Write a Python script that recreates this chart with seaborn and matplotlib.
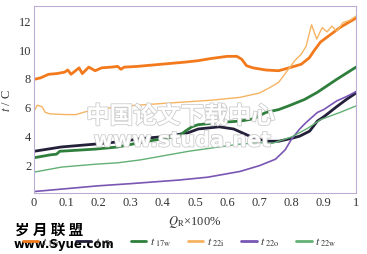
import matplotlib
matplotlib.use("Agg")
import matplotlib.pyplot as plt
import matplotlib.patheffects as pe
import seaborn as sns
import pandas as pd

# ---- data ----
x_17i = [0, 0.02, 0.045, 0.07, 0.095, 0.105, 0.115, 0.14, 0.15, 0.17, 0.19, 0.21, 0.24, 0.26, 0.27, 0.28,
         0.32, 0.37, 0.42, 0.47, 0.51, 0.55, 0.6, 0.63, 0.645, 0.66, 0.68, 0.72, 0.76, 0.8, 0.83, 0.855,
         0.87, 0.89, 0.92, 0.95, 0.98, 1.0]
y_17i = [7.9, 8.0, 8.25, 8.3, 8.4, 8.55, 8.25, 8.7, 8.3, 8.75, 8.5, 8.7, 8.75, 8.8, 8.6, 8.75,
         8.8, 8.9, 9.0, 9.1, 9.2, 9.35, 9.5, 9.5, 9.3, 8.85, 8.7, 8.55, 8.5, 8.75, 8.95, 9.4,
         9.9, 10.5, 11.0, 11.5, 11.9, 12.15]

x_22i = [0, 0.01, 0.025, 0.035, 0.05, 0.1, 0.13, 0.16, 0.2, 0.26, 0.35, 0.45, 0.55, 0.64, 0.7, 0.73,
         0.76, 0.79, 0.81, 0.83, 0.845, 0.862, 0.878, 0.895, 0.91, 0.925, 0.94, 0.96, 0.98, 1.0]
y_22i = [5.7, 6.1, 6.0, 5.6, 5.5, 5.45, 5.45, 5.65, 5.8, 6.0, 6.15, 6.3, 6.45, 6.65, 6.95, 7.3,
         7.7, 8.6, 9.2, 9.65, 10.2, 11.7, 10.7, 11.5, 11.2, 11.6, 11.25, 11.85, 12.0, 12.3]

x_17o = [0, 0.085, 0.19, 0.26, 0.34, 0.42, 0.48, 0.51, 0.575, 0.62, 0.67, 0.72, 0.76, 0.8, 0.825,
         0.856, 0.88, 0.9, 0.94, 0.97, 1.0]
y_17o = [2.9, 3.2, 3.4, 3.55, 3.8, 3.95, 4.2, 4.45, 4.6, 4.45, 3.95, 3.6, 3.6, 3.8, 3.95,
         4.3, 5.0, 5.3, 6.0, 6.5, 6.95]

x_17w = [0, 0.05, 0.07, 0.08, 0.19, 0.26, 0.34, 0.45, 0.47, 0.49, 0.51, 0.575, 0.64, 0.68, 0.72,
         0.76, 0.79, 0.84, 0.88, 0.94, 1.0]
y_17w = [2.45, 2.65, 2.7, 2.9, 3.05, 3.2, 3.55, 3.95, 4.3, 4.6, 4.75, 4.9, 5.0, 5.15, 5.6,
         5.8, 6.05, 6.5, 7.0, 7.9, 8.75]

x_22o = [0, 0.1, 0.2, 0.3, 0.36, 0.45, 0.54, 0.64, 0.7, 0.75, 0.78, 0.8, 0.825, 0.845, 0.88, 0.9,
         0.94, 0.97, 1.0]
y_22o = [0.1, 0.3, 0.5, 0.65, 0.75, 0.9, 1.1, 1.5, 1.9, 2.35, 3.0, 3.75, 4.45, 4.9, 5.6, 5.8,
         6.4, 6.7, 7.05]

x_22w = [0, 0.085, 0.19, 0.26, 0.33, 0.48, 0.575, 0.64, 0.7, 0.74, 0.8, 0.85, 0.89, 0.95, 1.0]
y_22w = [1.45, 1.8, 2.0, 2.1, 2.3, 2.9, 3.2, 3.4, 3.5, 3.45, 3.9, 4.5, 5.1, 5.6, 6.05]

x_ticks = [0, 0.1, 0.2, 0.3, 0.4, 0.5, 0.6, 0.7, 0.8, 0.9, 1]
x_ticklabels = ["0", "0.1", "0.2", "0.3", "0.4", "0.5", "0.6", "0.7", "0.8", "0.9", "1"]
y_ticks = [2, 4, 6, 8, 10, 12]

series = [
    (r"$t_{\ 17\mathrm{i}}$", x_17i, y_17i, "#f27a1c", 2.0),
    (r"$t_{\ 17\mathrm{o}}$", x_17o, y_17o, "#23203a", 2.0),
    (r"$t_{\ 17\mathrm{w}}$", x_17w, y_17w, "#2f7f3c", 2.0),
    (r"$t_{\ 22\mathrm{i}}$", x_22i, y_22i, "#f6b462", 1.0),
    (r"$t_{\ 22\mathrm{o}}$", x_22o, y_22o, "#7a56b4", 1.2),
    (r"$t_{\ 22\mathrm{w}}$", x_22w, y_22w, "#62b074", 1.0),
]

sns.set_theme(style="white")
plt.rcParams["font.family"] = ["Liberation Serif", "DejaVu Sans"]
plt.rcParams["mathtext.fontset"] = "stix"

fig = plt.figure(figsize=(3.67, 2.55), dpi=100)
ax = fig.add_axes([34 / 367, 1 - 194 / 255, 322 / 367, 187 / 255])

for label, xs, ys, color, lw in series:
    df = pd.DataFrame({"x": xs, "y": ys})
    sns.lineplot(data=df, x="x", y="y", ax=ax, color=color, linewidth=lw,
                 label=label, estimator=None, sort=False, legend=False)

ax.set_xlim(0, 1)
ax.set_ylim(0, 13)
ax.set_xticks(x_ticks)
ax.set_xticklabels(x_ticklabels)
ax.set_yticks(y_ticks)
ax.tick_params(axis="both", length=0, labelsize=9, colors="#333333", pad=2)
for sp in ax.spines.values():
    sp.set_color("#bcaed2")
    sp.set_linewidth(0.8)

ax.set_xlabel(r"$Q_{\mathrm{R}}$×100%", fontsize=9, color="#333333", labelpad=4)
ax.set_ylabel(r"$t$ / C", fontsize=9, color="#333333", labelpad=4)

handles, labels = ax.get_legend_handles_labels()
leg = fig.legend(handles, labels, loc="center", ncol=6, frameon=False,
                 bbox_to_anchor=(12 / 367, 0.015, 335 / 367, 0.065), mode="expand",
                 fontsize=8.5, handlelength=1.3, handletextpad=0.3,
                 labelcolor="#333333")
for line in leg.get_lines():
    line.set_linewidth(2.0)

# watermark texts
fig.text(0.492, 0.54, "中国论文下载中心", fontsize=17, ha="center", va="center",
         family=["Noto Sans CJK SC"], fontweight="bold", color="white",
         path_effects=[pe.withStroke(linewidth=1.2, foreground="#cccccc")])
fig.text(0.497, 0.445, "www.studa.net", fontsize=15, ha="center", va="center",
         family=["DejaVu Sans"], fontweight="bold", color="white",
         path_effects=[pe.withStroke(linewidth=1.2, foreground="#cccccc")])
fig.text(0.04, 0.10, "岁 月 联 盟", fontsize=10.5, ha="left", va="center",
         family=["Noto Sans CJK SC"], fontweight="bold", color="black")
fig.text(0.038, 0.04, "www.Syue.com", fontsize=8.5, ha="left", va="center",
         family=["DejaVu Sans"], fontweight="bold", color="black",
         bbox=dict(facecolor="white", edgecolor="none", pad=1.0))

fig.savefig("out.png", dpi=100, facecolor="white")
